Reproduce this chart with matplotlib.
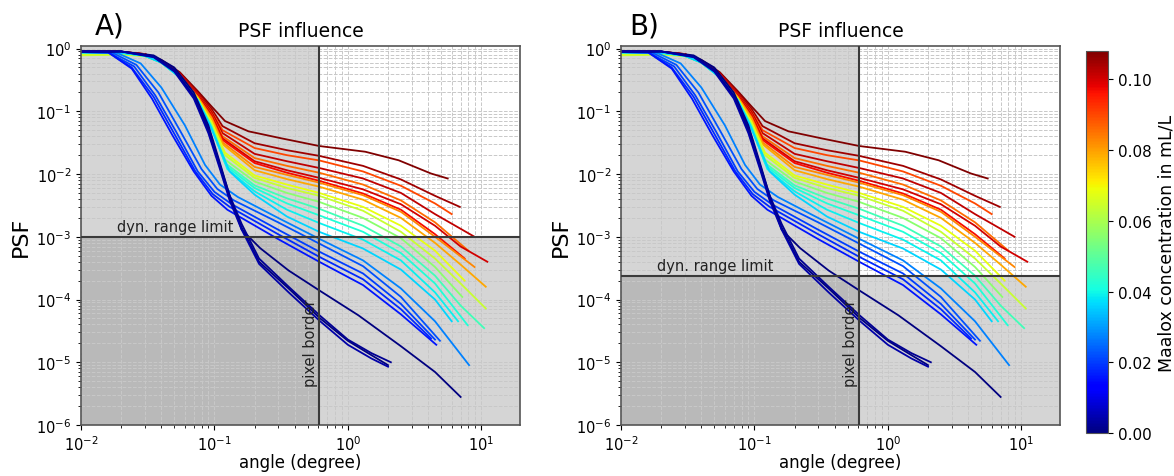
import matplotlib
matplotlib.use("Agg")
import matplotlib.pyplot as plt
from matplotlib import colors, cm
from matplotlib.ticker import NullFormatter

# ---------------- data ----------------
# Maalox concentration of each curve (mL/L)
conc = {
    "R1": 0.108, "R2": 0.105, "O1": 0.090, "R3": 0.102, "O2": 0.086,
    "R4": 0.100, "R5": 0.097, "O3": 0.083, "O4": 0.079, "Y1": 0.068,
    "Y2": 0.064, "G1": 0.056, "C1": 0.046, "C2": 0.042, "C3": 0.039,
    "C4": 0.036, "B1": 0.027, "B2": 0.022, "B3": 0.020, "B4": 0.018,
    "B5": 0.016, "N2": 0.000, "N3": 0.002, "N4": 0.004, "N1": 0.000,
}

ang_R1 = [0.01, 0.02, 0.03, 0.04, 0.055, 0.075, 0.095, 0.12, 0.18, 0.32, 0.61, 1.35, 2.4, 4.2, 5.6]
psf_R1 = [0.9, 0.89, 0.82, 0.66, 0.42, 0.21, 0.12, 0.07, 0.048, 0.037, 0.028, 0.0227, 0.0166, 0.0102, 0.0085]
ang_R2 = [0.01, 0.02, 0.03, 0.04, 0.055, 0.075, 0.095, 0.115, 0.2, 0.35, 0.61, 1.3, 2.5, 4.5, 6.9]
psf_R2 = [0.9, 0.89, 0.82, 0.65, 0.41, 0.2, 0.11, 0.058, 0.031, 0.024, 0.0195, 0.0135, 0.0082, 0.0045, 0.003]
ang_O1 = [0.01, 0.02, 0.03, 0.04, 0.055, 0.075, 0.095, 0.115, 0.2, 0.35, 0.61, 1.3, 2.5, 4.5, 6.0]
psf_O1 = [0.88, 0.87, 0.8, 0.63, 0.39, 0.19, 0.1, 0.05, 0.026, 0.02, 0.0165, 0.011, 0.0065, 0.0034, 0.0023]
ang_R3 = [0.01, 0.02, 0.03, 0.04, 0.055, 0.075, 0.095, 0.115, 0.2, 0.35, 0.61, 1.3, 2.5, 4.5, 8.9]
psf_R3 = [0.9, 0.89, 0.81, 0.64, 0.4, 0.19, 0.098, 0.045, 0.021, 0.016, 0.0125, 0.0085, 0.005, 0.0023, 0.001]
ang_O2 = [0.01, 0.02, 0.03, 0.04, 0.055, 0.075, 0.095, 0.115, 0.2, 0.35, 0.61, 1.3, 2.5, 4.5, 8.0]
psf_O2 = [0.88, 0.87, 0.8, 0.63, 0.38, 0.18, 0.09, 0.04, 0.018, 0.0135, 0.0105, 0.0068, 0.0038, 0.0017, 0.0006]
ang_R4 = [0.01, 0.02, 0.03, 0.04, 0.055, 0.075, 0.095, 0.115, 0.2, 0.35, 0.61, 1.3, 2.5, 4.5, 7.0, 11.1]
psf_R4 = [0.9, 0.89, 0.81, 0.64, 0.39, 0.18, 0.088, 0.037, 0.016, 0.0115, 0.0087, 0.0057, 0.0033, 0.0015, 0.0007, 0.0004]
ang_R5 = [0.01, 0.02, 0.03, 0.04, 0.055, 0.075, 0.095, 0.115, 0.2, 0.35, 0.61, 1.3, 2.5, 4.5, 7.5]
psf_R5 = [0.9, 0.89, 0.81, 0.63, 0.38, 0.17, 0.084, 0.035, 0.015, 0.0105, 0.0078, 0.0049, 0.0027, 0.0011, 0.00045]
ang_O3 = [0.01, 0.02, 0.03, 0.04, 0.055, 0.075, 0.095, 0.115, 0.2, 0.35, 0.61, 1.3, 2.5, 4.5, 8.9]
psf_O3 = [0.88, 0.87, 0.8, 0.62, 0.37, 0.17, 0.08, 0.032, 0.013, 0.0097, 0.0073, 0.0046, 0.0025, 0.001, 0.00033]
ang_O4 = [0.01, 0.02, 0.03, 0.04, 0.055, 0.075, 0.095, 0.115, 0.2, 0.35, 0.61, 1.3, 2.5, 4.5, 7.0, 10.8]
psf_O4 = [0.88, 0.87, 0.8, 0.62, 0.37, 0.165, 0.076, 0.03, 0.0115, 0.0083, 0.0063, 0.0039, 0.002, 0.0008, 0.00036, 0.00016]
ang_Y1 = [0.01, 0.02, 0.03, 0.04, 0.055, 0.075, 0.095, 0.12, 0.2, 0.35, 0.61, 1.3, 2.5, 4.5, 7.5]
psf_Y1 = [0.8, 0.82, 0.77, 0.61, 0.36, 0.16, 0.068, 0.022, 0.0095, 0.0068, 0.005, 0.003, 0.0015, 0.0006, 0.0002]
ang_Y2 = [0.01, 0.02, 0.03, 0.04, 0.055, 0.075, 0.095, 0.12, 0.2, 0.35, 0.61, 1.3, 2.5, 4.5, 7.0, 10.8]
psf_Y2 = [0.78, 0.8, 0.76, 0.6, 0.36, 0.155, 0.064, 0.02, 0.0087, 0.006, 0.0045, 0.0026, 0.0012, 0.00045, 0.00018, 7.2e-5]
ang_G1 = [0.01, 0.02, 0.03, 0.04, 0.055, 0.075, 0.095, 0.12, 0.2, 0.35, 0.61, 1.3, 2.5, 4.5, 7.2]
psf_G1 = [0.85, 0.85, 0.77, 0.6, 0.35, 0.15, 0.06, 0.017, 0.0076, 0.005, 0.0036, 0.002, 0.00095, 0.00033, 0.00011]
ang_C1 = [0.01, 0.02, 0.03, 0.04, 0.055, 0.075, 0.095, 0.12, 0.2, 0.35, 0.61, 1.3, 2.5, 4.5, 7.0, 10.5]
psf_C1 = [0.87, 0.86, 0.77, 0.6, 0.35, 0.15, 0.057, 0.015, 0.0066, 0.0041, 0.0028, 0.0015, 0.0007, 0.00024, 8e-5, 3.5e-5]
ang_C2 = [0.01, 0.02, 0.03, 0.04, 0.055, 0.075, 0.095, 0.125, 0.2, 0.35, 0.61, 1.3, 2.5, 4.5, 7.9]
psf_C2 = [0.87, 0.86, 0.77, 0.6, 0.35, 0.15, 0.055, 0.013, 0.006, 0.0034, 0.0022, 0.0012, 0.00055, 0.00018, 3.9e-5]
ang_C3 = [0.01, 0.02, 0.03, 0.04, 0.055, 0.075, 0.095, 0.125, 0.2, 0.35, 0.61, 1.3, 2.5, 4.5, 6.7]
psf_C3 = [0.87, 0.86, 0.77, 0.6, 0.35, 0.15, 0.054, 0.012, 0.0053, 0.0027, 0.00166, 0.0009, 0.00042, 0.00013, 4.5e-5]
ang_C4 = [0.01, 0.02, 0.03, 0.04, 0.055, 0.075, 0.095, 0.13, 0.2, 0.35, 0.61, 1.3, 2.5, 4.5, 6.0]
psf_C4 = [0.87, 0.86, 0.77, 0.6, 0.35, 0.15, 0.053, 0.011, 0.0047, 0.0021, 0.0012, 0.00065, 0.0003, 0.0001, 4.5e-5]
ang_B1 = [0.01, 0.018, 0.028, 0.04, 0.06, 0.085, 0.11, 0.15, 0.3, 0.61, 1.3, 2.5, 4.5, 8.1]
psf_B1 = [0.9, 0.88, 0.58, 0.24, 0.06, 0.014, 0.0068, 0.0043, 0.002, 0.00093, 0.00042, 0.00015, 4.5e-5, 9e-6]
ang_B2 = [0.01, 0.017, 0.026, 0.038, 0.055, 0.08, 0.105, 0.14, 0.3, 0.61, 1.3, 2.5, 4.9]
psf_B2 = [0.88, 0.87, 0.55, 0.2, 0.05, 0.012, 0.0058, 0.0038, 0.0017, 0.00078, 0.00034, 0.00011, 2.2e-5]
ang_B3 = [0.01, 0.016, 0.025, 0.036, 0.052, 0.075, 0.1, 0.135, 0.3, 0.61, 1.3, 2.5, 4.5]
psf_B3 = [0.88, 0.87, 0.52, 0.18, 0.046, 0.011, 0.0052, 0.0033, 0.0013, 0.00058, 0.00026, 8.5e-5, 2.3e-5]
ang_B4 = [0.01, 0.016, 0.024, 0.035, 0.05, 0.072, 0.097, 0.13, 0.3, 0.61, 1.3, 2.5, 4.2]
psf_B4 = [0.88, 0.87, 0.5, 0.17, 0.044, 0.011, 0.0048, 0.003, 0.0011, 0.00048, 0.00021, 7e-5, 2.4e-5]
ang_B5 = [0.01, 0.016, 0.024, 0.034, 0.048, 0.07, 0.095, 0.125, 0.3, 0.61, 1.3, 2.5, 4.6]
psf_B5 = [0.88, 0.87, 0.48, 0.16, 0.043, 0.011, 0.0045, 0.0027, 0.00092, 0.0004, 0.00017, 5.8e-5, 1.9e-5]
ang_N1 = [0.01, 0.02, 0.035, 0.05, 0.07, 0.09, 0.11, 0.13, 0.16, 0.22, 0.36, 0.61, 1.2, 2.5, 4.5, 7.0]
psf_N1 = [0.9, 0.9, 0.78, 0.5, 0.2, 0.06, 0.015, 0.0045, 0.0013, 0.00066, 0.00029, 0.00014, 5.6e-5, 1.8e-5, 7e-6, 2.8e-6]
ang_N2 = [0.01, 0.02, 0.035, 0.05, 0.07, 0.09, 0.11, 0.13, 0.16, 0.216, 0.36, 0.62, 1.0, 1.5, 2.0]
psf_N2 = [0.9, 0.9, 0.74, 0.45, 0.17, 0.05, 0.013, 0.0042, 0.0014, 0.0004, 0.00015, 5e-5, 2.2e-5, 1.3e-5, 9e-6]
ang_N3 = [0.01, 0.02, 0.035, 0.05, 0.07, 0.09, 0.11, 0.13, 0.16, 0.216, 0.36, 0.62, 1.0, 1.5, 2.1]
psf_N3 = [0.9, 0.9, 0.75, 0.46, 0.18, 0.055, 0.014, 0.0046, 0.0016, 0.00045, 0.00016, 5.5e-5, 2.3e-5, 1.4e-5, 1e-5]
ang_N4 = [0.01, 0.02, 0.035, 0.05, 0.07, 0.09, 0.11, 0.13, 0.16, 0.216, 0.36, 0.62, 1.0, 1.5, 2.0]
psf_N4 = [0.9, 0.9, 0.73, 0.43, 0.16, 0.045, 0.012, 0.0038, 0.0013, 0.00037, 0.00013, 4.5e-5, 1.9e-5, 1.15e-5, 8.5e-6]

curve_order = ["R1", "R2", "O1", "R3", "O2", "R4", "R5", "O3", "O4", "Y1", "Y2",
               "G1", "C1", "C2", "C3", "C4", "B1", "B2", "B3", "B4", "B5",
               "N1", "N2", "N3", "N4"]
curves = {k: (globals()["ang_" + k], globals()["psf_" + k]) for k in curve_order}

pixel_border = 0.61           # degree
dyn_limit_A = 1e-3
dyn_limit_B = 2.4e-4
conc_max = 0.108
cbar_ticks = [0.00, 0.02, 0.04, 0.06, 0.08, 0.10]

# ---------------- figure ----------------
W, H = 1174, 477
fig = plt.figure(figsize=(W / 100, H / 100), dpi=100)
axA = fig.add_axes([81 / W, 51 / H, 439 / W, 379 / H])
axB = fig.add_axes([621 / W, 51 / H, 439 / W, 379 / H])
cax = fig.add_axes([1086 / W, 43 / H, 22 / W, 382 / H])

norm = colors.Normalize(vmin=0.0, vmax=conc_max)
cmap = plt.get_cmap("jet")
xmin, xmax = 0.01, 19.5
ymin, ymax = 1e-6, 1.1


def draw(ax, limit):
    ax.set_xscale("log")
    ax.set_yscale("log")
    ax.set_xlim(xmin, xmax)
    ax.set_ylim(ymin, ymax)
    ax.xaxis.set_minor_formatter(NullFormatter())
    ax.yaxis.set_minor_formatter(NullFormatter())
    ax.axvspan(xmin, pixel_border, color="gray", alpha=0.33, lw=0, zorder=0.2)
    ax.axhspan(ymin, limit, color="gray", alpha=0.33, lw=0, zorder=0.2)
    ax.grid(True, which="both", ls="--", color="#c8c8c8", lw=0.7, zorder=0.3)
    for k in curve_order:
        a, p = curves[k]
        ax.plot(a, p, color=cmap(norm(conc[k])), lw=1.3, zorder=2)
    ax.axhline(limit, color="#3a3a3a", lw=1.5, zorder=3)
    ax.axvline(pixel_border, color="#3a3a3a", lw=1.5, zorder=3)
    ax.text(0.0185, limit * 1.12, "dyn. range limit", fontsize=10.5,
            ha="left", va="bottom", color="#222222", zorder=4)
    ax.text(pixel_border * 0.985, 4.2e-6, "pixel border", rotation=90,
            fontsize=10.5, ha="right", va="bottom", color="#222222", zorder=4)
    ax.set_title("PSF influence", fontsize=13.5, pad=7)
    ax.set_xlabel("angle (degree)", fontsize=12, labelpad=0)
    ax.set_ylabel("PSF", fontsize=16, labelpad=4)
    ax.tick_params(labelsize=10.5)
    for s in ax.spines.values():
        s.set_color("#555555")
        s.set_linewidth(1.2)


draw(axA, dyn_limit_A)
draw(axB, dyn_limit_B)

fig.text(95 / W, 1 - 27 / H, "A)", fontsize=20, ha="left", va="center")
fig.text(629 / W, 1 - 27 / H, "B)", fontsize=20, ha="left", va="center")

sm = cm.ScalarMappable(norm=norm, cmap=cmap)
cb = fig.colorbar(sm, cax=cax, ticks=cbar_ticks)
cb.ax.set_yticklabels([f"{t:.2f}" for t in cbar_ticks])
cb.ax.tick_params(labelsize=11)
cb.set_label("Maalox concentration in mL/L", fontsize=12.5)
cb.outline.set_edgecolor("#555555")

fig.savefig("out.png", dpi=100)
